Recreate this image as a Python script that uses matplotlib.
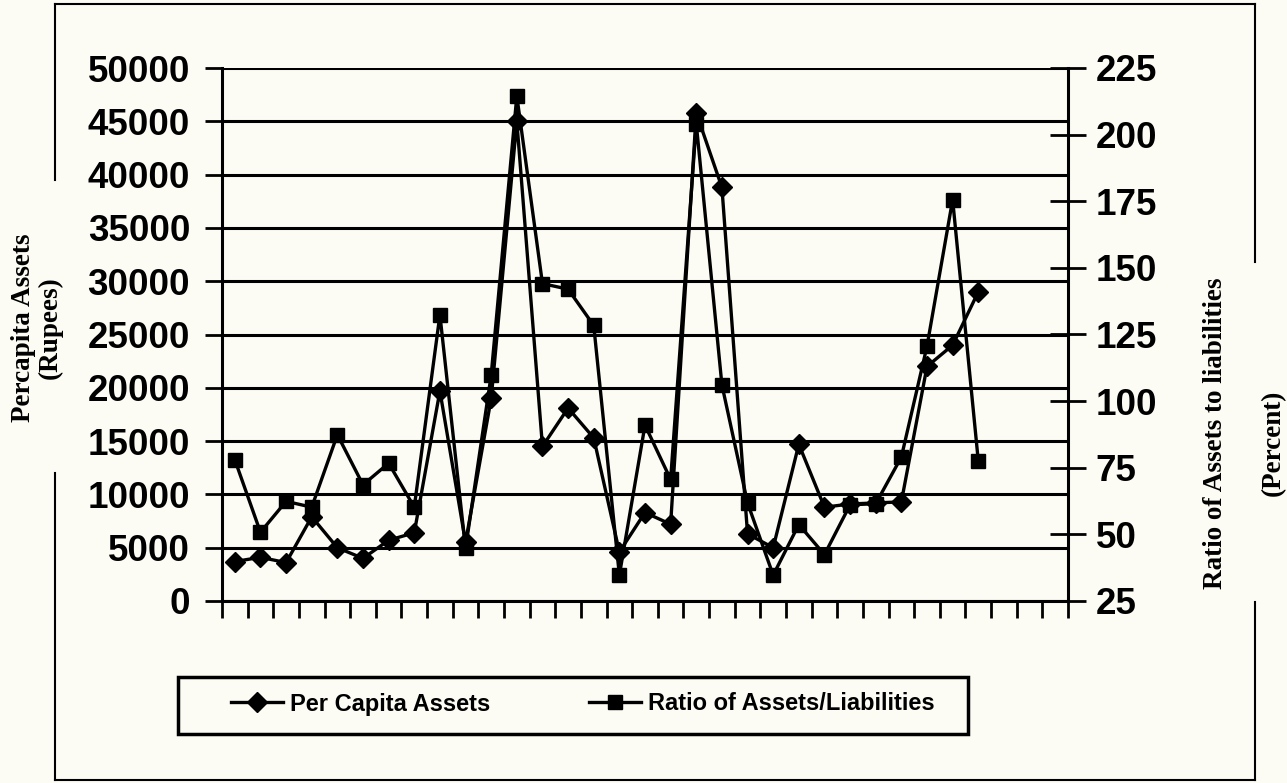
import numpy as np
import matplotlib
matplotlib.use("Agg")
import matplotlib.pyplot as plt
from matplotlib.lines import Line2D

# Per capita assets (Rupees) and ratio of assets to liabilities (percent)
per_capita_assets = [3700, 4100, 3600, 7900, 5000, 4000, 5700, 6400, 19700, 5500,
                     19000, 45000, 14500, 18100, 15300, 4600, 8300, 7200, 45800, 38800,
                     6300, 5000, 14700, 8800, 9100, 9200, 9300, 22000, 24000, 29000]
ratio_assets_liabilities = [78.0, 50.8, 62.4, 60.2, 87.4, 68.6, 76.7, 60.2, 132.4, 44.7,
                            109.8, 214.5, 144.1, 142.0, 128.4, 34.7, 91.0, 70.6, 204.1, 106.1,
                            61.8, 34.7, 53.7, 42.4, 61.1, 61.5, 79.0, 120.6, 175.6, 77.6]
n_slots = 33                      # category slots on the horizontal axis
left_ticks = list(range(0, 50001, 5000))
right_ticks = list(range(25, 226, 25))

paper = "#fcfcf4"
W, H = 1287, 783
fig = plt.figure(figsize=(W / 100, H / 100), dpi=100, facecolor=paper)

def fx(px):
    return px / W

def fy(py):
    return 1 - py / H

ax = fig.add_axes([fx(222), fy(601), fx(1068) - fx(222), fy(68) - fy(601)])
ax.set_facecolor(paper)
pos = np.arange(len(per_capita_assets)) + 0.5

tick_font = dict(family=["Liberation Sans", "DejaVu Sans"], weight="bold", size=26.5)

ax.set_xlim(0, n_slots)
ax.set_ylim(0, 50000)
ax.set_yticks(left_ticks)
ax.set_yticklabels([str(t) for t in left_ticks], fontdict=tick_font)
ax.set_xticks(np.arange(0, n_slots + 1))
ax.set_xticklabels([])
ax.tick_params(axis="y", direction="out", length=12, width=2, pad=11, colors="black")
ax.tick_params(axis="x", direction="out", length=12, width=2)
ax.grid(axis="y", color="black", linewidth=2.2)
ax.set_axisbelow(True)
for s in ["top", "right"]:
    ax.spines[s].set_visible(False)
for s in ["left", "bottom"]:
    ax.spines[s].set_linewidth(2.2)

l1, = ax.plot(pos, per_capita_assets, color="black", linewidth=2.4, marker="D",
              markersize=10, zorder=4, clip_on=False)

ax2 = ax.twinx()
ax2.set_ylim(25, 225)
ax2.set_yticks(right_ticks)
ax2.set_yticklabels([str(t) for t in right_ticks], fontdict=tick_font)
ax2.tick_params(axis="y", direction="inout", length=26, width=2, pad=7)
for s in ["top", "left", "bottom"]:
    ax2.spines[s].set_visible(False)
ax2.spines["right"].set_linewidth(2.2)
l2, = ax2.plot(pos, ratio_assets_liabilities, color="black", linewidth=2.4, marker="s",
               markersize=10, zorder=4, clip_on=False)

# Axis titles
serif = ["Liberation Serif", "DejaVu Serif"]
fig.text(fx(37), fy(328), "Percapita Assets\n(Rupees)", rotation=90, ha="center",
         va="center", family=serif, weight="bold", size=19.5, linespacing=1.05)
fig.text(fx(1216), fy(433), "Ratio of Assets to liabilities", rotation=90, ha="center",
         va="center", family=serif, weight="bold", size=19.5)
fig.text(fx(1273), fy(443), "(Percent)", rotation=90, ha="center", va="center",
         family=serif, weight="bold", size=19.5)

# Outer frame with breaks beside the axis titles
frame = dict(color="black", linewidth=1.5, transform=fig.transFigure)
fig.add_artist(Line2D([fx(55), fx(1255)], [fy(4), fy(4)], **frame))
fig.add_artist(Line2D([fx(55), fx(1255)], [fy(780), fy(780)], **frame))
fig.add_artist(Line2D([fx(55), fx(55)], [fy(4), fy(180)], **frame))
fig.add_artist(Line2D([fx(55), fx(55)], [fy(473), fy(780)], **frame))
fig.add_artist(Line2D([fx(1255), fx(1255)], [fy(4), fy(262)], **frame))
fig.add_artist(Line2D([fx(1255), fx(1255)], [fy(602), fy(780)], **frame))

# Legend
fig.add_artist(plt.Rectangle((fx(178), fy(734)), fx(968) - fx(178), fy(677) - fy(734),
                             transform=fig.transFigure, fill=False, edgecolor="black",
                             linewidth=2.5))
leg = fig.legend([l1, l2], ["Per Capita Assets", "Ratio of Assets/Liabilities"],
                 loc="center left", bbox_to_anchor=(fx(231), fy(704)), ncol=2,
                 frameon=False, handlelength=2.2, handletextpad=0.3, columnspacing=4.2,
                 borderaxespad=0, borderpad=0,
                 prop=dict(family=["Liberation Sans", "DejaVu Sans"],
                           weight="bold", size=17))
for h in leg.legend_handles:
    h.set_markersize(10)

fig.savefig("out.png", dpi=100, facecolor=paper)
